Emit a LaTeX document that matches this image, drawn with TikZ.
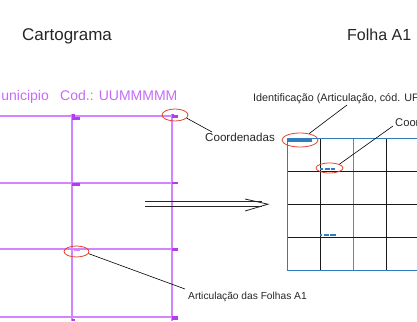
\documentclass[tikz,border=0pt]{standalone}
\usepackage{fontspec}
\setmainfont{Liberation Sans}
\usetikzlibrary{shapes.geometric}
\definecolor{purpleline}{HTML}{D385FF}
\definecolor{purpletick}{HTML}{B23CF0}
\definecolor{purpletext}{HTML}{C46CF8}
\definecolor{bluebord}{HTML}{2F7DBE}
\definecolor{ringred}{HTML}{E0452F}
\definecolor{gridgray}{HTML}{808080}
\begin{document}
\begin{tikzpicture}[x=1pt,y=-1pt,
  pline/.style={draw=purpleline, line width=1.1pt},
  ptick/.style={fill=purpletick},
  gline/.style={draw=black!90, line width=0.9pt},
  bline/.style={draw=bluebord, line width=0.95pt},
  bmark/.style={fill=bluebord},
  ring/.style={ellipse, draw=ringred, line width=0.8pt, inner sep=0pt},
  leader/.style={draw=black, line width=0.6pt},
  arrowline/.style={draw=black!85, line width=0.8pt},
  title/.style={inner sep=0pt, anchor=base west, text=black!85},
  lbl/.style={inner sep=0pt, anchor=base west, text=black!85},
]
\useasboundingbox (0,0) rectangle (417,321);
\clip (0,0) rectangle (417,321);

% titles
\node[title, font=\fontsize{17}{20}\selectfont] (tcart) at (22,41) {Cartograma};
\node[title, font=\fontsize{16}{19}\selectfont] (tfolha) at (347,41) {Folha A1};

% purple header text
\node[inner sep=0pt, anchor=base east, text=purpletext, font=\fontsize{14}{16}\selectfont] (mun) at (49,100) {Municipio};
\node[inner sep=0pt, anchor=base west, text=purpletext, font=\fontsize{14}{16}\selectfont] (cod) at (60,100) {Cod.: UUMMMMM};

% left grid (cartograma)
\foreach \yy in {116,183,249,317} \draw[pline] (0,\yy) -- (178,\yy);
\foreach \xx in {72,172} \draw[pline] (\xx,114) -- (\xx,321);
% ticks
\fill[ptick] (72,116.5) rectangle (80,119.5);
\fill[ptick] (72,114) rectangle (74.5,116.5);
\fill[ptick] (172,115) rectangle (178,117.5);
\fill[ptick] (172,114) rectangle (174,115);
\fill[ptick] (72,183) rectangle (80,186);
\fill[ptick] (172,182) rectangle (178,184.2);
\fill[purpletick!60] (74,249.5) rectangle (80,251.2);
\fill[ptick] (172,248) rectangle (178,250.5);
\fill[ptick] (72,319) rectangle (75,321);
\fill[ptick] (172,316) rectangle (178,320);

% right grid (folha A1)
\foreach \xx in {320,386.7} \draw[gline] (\xx,138) -- (\xx,270);
\draw[draw=gridgray, line width=1.4pt] (353.3,138) -- (353.3,270);
\foreach \yy in {171,204.3,237.3} \draw[gline] (287,\yy) -- (417,\yy);
\draw[bline] (420,138) -- (287,138) -- (287,270) -- (420,270);
% blue marks
\fill[bmark] (288,139.3) rectangle (311.7,141.5);
\fill[bmark] (320,168) rectangle (323,170);
\fill[bmark] (324.5,168) rectangle (329.5,170);
\fill[bmark] (331,168) rectangle (335,170);
\fill[bmark] (320,234.3) rectangle (322,236.2);
\fill[bmark] (323.5,234.3) rectangle (328.5,236.2);
\fill[bmark] (330,234.3) rectangle (335.7,236.2);

% double arrow
\coordinate (arrs) at (145,204.2);
\coordinate (arrt) at (268,204.2);
\draw[arrowline] ([yshift=-2.5pt]arrs) -- ([xshift=-6pt,yshift=-2.5pt]arrt);
\draw[arrowline] ([yshift=2.5pt]arrs) -- ([xshift=-6pt,yshift=2.5pt]arrt);
\draw[arrowline] (245,199) -- (arrt) -- (245,211);

% red rings
\node[ring, minimum width=26pt, minimum height=12pt] (r1) at (175,115) {};
\node[ring, minimum width=25pt, minimum height=11pt] (r2) at (76.5,251.5) {};
\node[ring, minimum width=36pt, minimum height=14pt] (r3) at (300,140) {};
\node[ring, minimum width=27pt, minimum height=10pt] (r4) at (329.5,168) {};

% labels
\node[lbl, font=\fontsize{11.6}{13}\selectfont] (lcoord) at (205,141) {Coordenadas};
\node[lbl, font=\fontsize{10.2}{12}\selectfont] (lartic) at (188,299) {Articulação das Folhas A1};
\node[lbl, font=\fontsize{10.8}{12}\selectfont] (lident) at (253,101) {Identificação (Articulação, cód. UF};
\node[lbl, font=\fontsize{11.2}{13}\selectfont] (lcoord2) at (395,126) {Coordenadas};

% leader lines
\coordinate (eident) at (347,105);
\coordinate (ecoord2) at (393,126);
\coordinate (eartic) at (185,289);
\coordinate (ecoord) at (212,132);
\draw[leader] (r1.-15) -- (ecoord);
\draw[leader] (r2.-10) -- (eartic);
\draw[leader] (r3.35) -- (eident);
\draw[leader] (r4.21) -- (ecoord2);
\end{tikzpicture}
\end{document}
